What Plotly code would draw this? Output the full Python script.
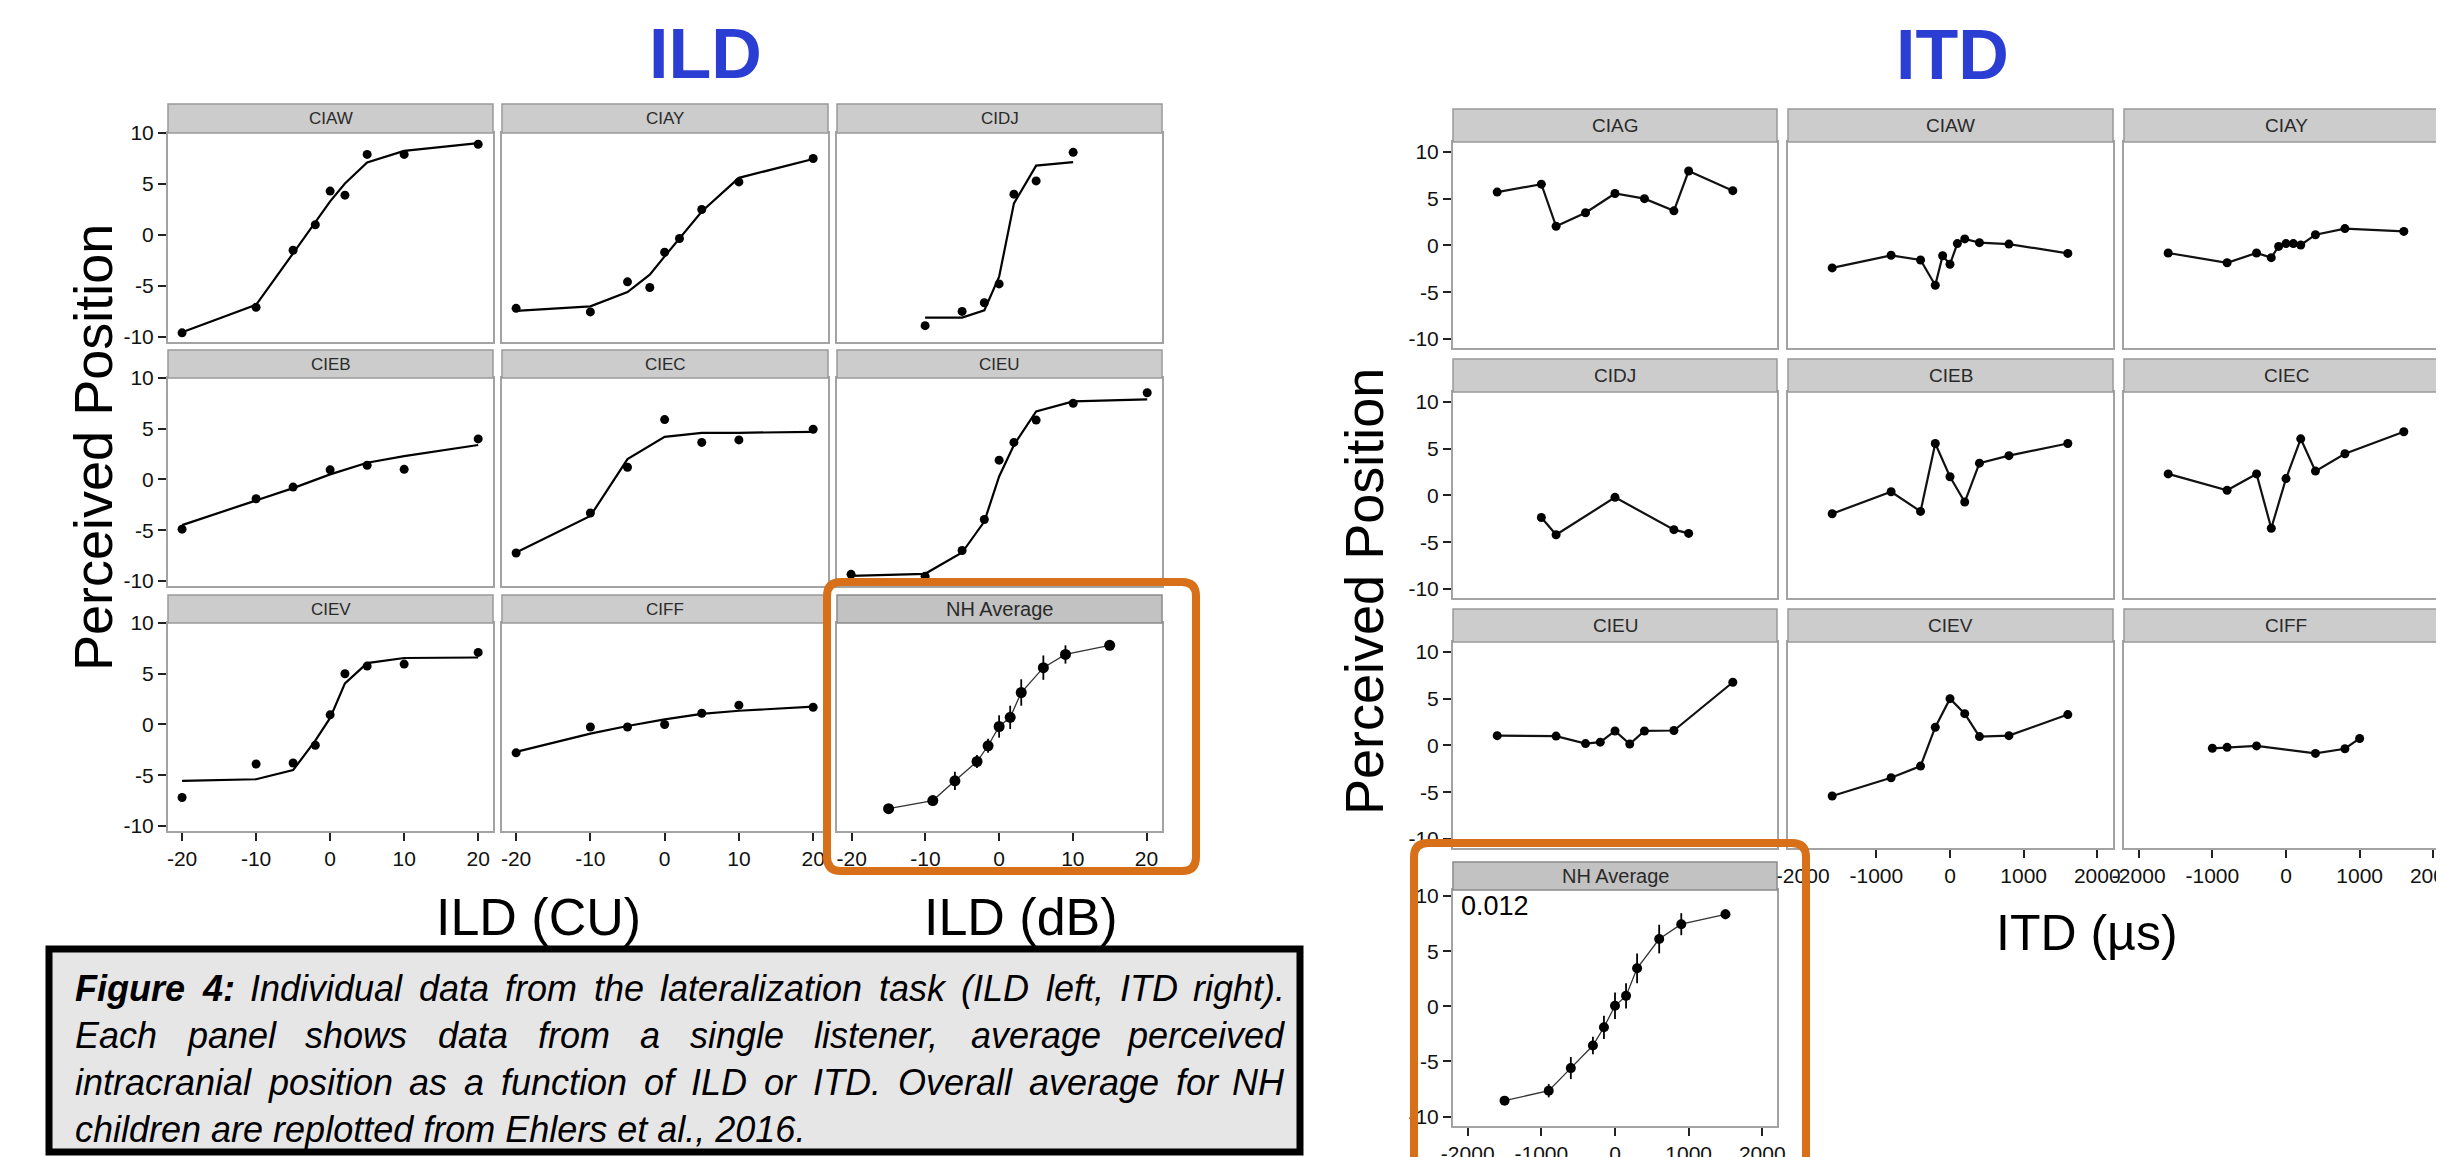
import plotly.graph_objects as go

# ---------------- data ----------------
ILD_X9 = [-20, -10, -5, -2, 0, 2, 5, 10, 20]
ILD_X7 = [-20, -10, -5, 0, 5, 10, 20]
ILD_X_CIDJ = [-10, -5, -2, 0, 2, 5, 10]

CIAW_PTS = [-9.6, -7.1, -1.5, 1.0, 4.3, 3.9, 7.9, 7.9, 8.9]
CIAW_FIT = [-9.55, -6.85, -1.8, 1.3, 3.3, 5.05, 7.1, 8.25, 9.0]
CIAY_PTS = [-7.2, -7.55, -4.6, -5.15, -1.7, -0.35, 2.5, 5.2, 7.5]
CIAY_FIT = [-7.45, -7.0, -5.6, -3.9, -2.1, -0.3, 2.3, 5.6, 7.45]
CIDJ_PTS = [-8.9, -7.5, -6.65, -4.8, 4.0, 5.3, 8.1]
CIDJ_FIT = [-8.1, -8.1, -7.4, -4.1, 3.1, 6.8, 7.15]
CIEB_PTS = [-4.9, -1.9, -0.75, 0.95, 1.4, 1.0, 4.0]
CIEB_FIT = [-4.5, -2.1, -0.85, 0.5, 1.65, 2.3, 3.4]
CIEC_PTS = [-7.25, -3.3, 1.2, 5.9, 3.65, 3.9, 4.95]
CIEC_FIT = [-7.2, -3.6, 2.0, 4.2, 4.6, 4.6, 4.7]
CIEU_PTS = [-9.35, -9.55, -7.0, -3.95, 1.9, 3.65, 5.85, 7.5, 8.55]
CIEU_FIT = [-9.5, -9.3, -7.2, -4.15, 0.3, 3.4, 6.7, 7.7, 7.9]
CIEV_PTS = [-7.2, -3.9, -3.8, -2.05, 0.95, 5.0, 5.75, 5.95, 7.1]
CIEV_FIT = [-5.55, -5.4, -4.5, -1.6, 0.65, 4.05, 6.05, 6.55, 6.6]
CIFF_PTS = [-2.8, -0.25, -0.25, 0.0, 1.1, 1.9, 1.7]
CIFF_FIT = [-2.7, -0.9, -0.15, 0.5, 1.05, 1.35, 1.75]

NH_ILD_X = [-15, -9, -6, -3, -1.5, 0, 1.5, 3, 6, 9, 15]
NH_ILD_Y = [-8.3, -7.5, -5.55, -3.65, -2.1, -0.2, 0.7, 3.15, 5.6, 6.9, 7.8]
NH_ILD_ERR = [0.3, 0.45, 0.9, 0.65, 0.7, 1.1, 1.15, 1.3, 1.2, 0.9, 0.3]

ITD_X9 = [-1600, -800, -400, -200, 0, 200, 400, 800, 1600]
ITD_X11 = [-1600, -800, -400, -200, -100, 0, 100, 200, 400, 800, 1600]
ITD_X_CIAG = [-1600, -1000, -800, -400, 0, 400, 800, 1000, 1600]
ITD_X_CIDJ = [-1000, -800, 0, 800, 1000]
ITD_X_CIFF = [-1000, -800, -400, 400, 800, 1000]

T_CIAG = [5.7, 6.55, 2.05, 3.5, 5.55, 5.0, 3.7, 7.95, 5.85]
T_CIAW = [-2.4, -1.05, -1.55, -4.25, -1.1, -2.0, 0.2, 0.7, 0.3, 0.15, -0.85]
T_CIAY = [-0.8, -1.85, -0.8, -1.3, -0.1, 0.2, 0.2, 0.05, 1.15, 1.8, 1.5]
T_CIDJ = [-2.35, -4.2, -0.2, -3.65, -4.05]
T_CIEB = [-1.95, 0.4, -1.7, 5.55, 2.0, -0.7, 3.45, 4.25, 5.55]
T_CIEC = [2.3, 0.55, 2.3, -3.5, 1.8, 6.05, 2.6, 4.45, 6.8]
T_CIEU = [1.05, 1.0, 0.2, 0.35, 1.55, 0.15, 1.55, 1.6, 6.75]
T_CIEV = [-5.4, -3.45, -2.2, 1.95, 5.0, 3.4, 0.95, 1.05, 3.3]
T_CIFF = [-0.3, -0.2, -0.05, -0.85, -0.35, 0.75]

NH_ITD_X = [-1500, -900, -600, -300, -150, 0, 150, 300, 600, 900, 1500]
NH_ITD_Y = [-8.55, -7.65, -5.6, -3.55, -1.9, 0.05, 0.95, 3.45, 6.1, 7.45, 8.35]
NH_ITD_ERR = [0.25, 0.6, 1.0, 0.8, 1.05, 1.2, 1.15, 1.35, 1.3, 1.0, 0.45]

Y_TICKS = [-10, -5, 0, 5, 10]
Y_TICK_TEXT = ["-10", "-5", "0", "5", "10"]
ILD_XTICKS = [-20, -10, 0, 10, 20]
ILD_XTICK_TEXT = ["-20", "-10", "0", "10", "20"]
ITD_XTICKS = [-2000, -1000, 0, 1000, 2000]
ITD_XTICK_TEXT = ["-2000", "-1000", "0", "1000", "2000"]

CAPTION_BOLD = "Figure 4:"
CAPTION = [
    "Individual data from the lateralization task (ILD left, ITD right).",
    "Each panel shows data from a single listener, average perceived",
    "intracranial position as a function of ILD or ITD. Overall average for NH",
    "children are replotted from Ehlers et al., 2016.",
]

# ---------------- layout helpers ----------------
W, H = 2444, 1157
OFF = 8  # page offset of the figure inside the browser window
FONT = "Liberation Sans, Arial, sans-serif"
ORANGE = "#d8701a"
BLUE = "#2b3ed4"


def fx(x):
    return (x - OFF) / W


def fy(y):
    return 1 - (y - OFF) / H


fig = go.Figure()
layout = dict(shapes=[], annotations=[])
counter = [0]


def add_panel(title, xpx, rowpx, xr, yr, xticks_on, yticks_on, xtickvals, xticktext,
              tick_size, strip_size, strip_fill="#cccccc", strip_line="#999999"):
    counter[0] += 1
    n = counter[0]
    sfx = "" if n == 1 else str(n)
    x0, x1 = xpx
    st, sb, pb = rowpx
    layout["xaxis" + sfx] = dict(
        domain=[fx(x0), fx(x1)], range=xr, anchor="y" + sfx, automargin=False,
        showline=True, mirror=True, linecolor="#a3a3a3", linewidth=2,
        showgrid=False, zeroline=False, ticklabeloverflow="allow",
        tickvals=xtickvals, ticktext=xticktext, showticklabels=xticks_on,
        ticks="outside" if xticks_on else "", ticklen=8, tickwidth=1.5, tickcolor="#222",
        tickfont=dict(size=tick_size, color="#111", family=FONT),
    )
    layout["yaxis" + sfx] = dict(
        domain=[fy(pb), fy(sb)], range=yr, anchor="x" + sfx, automargin=False,
        showline=True, mirror=True, linecolor="#a3a3a3", linewidth=2,
        showgrid=False, zeroline=False, ticklabeloverflow="allow",
        tickvals=Y_TICKS, ticktext=Y_TICK_TEXT, showticklabels=yticks_on,
        ticks="outside" if yticks_on else "", ticklen=8, tickwidth=1.5, tickcolor="#222",
        tickfont=dict(size=tick_size, color="#111", family=FONT),
    )
    layout["shapes"].append(dict(
        type="rect", xref="paper", yref="paper",
        x0=fx(x0), x1=fx(x1), y0=fy(sb), y1=fy(st),
        fillcolor=strip_fill, line=dict(color=strip_line, width=1.5), layer="above"))
    layout["annotations"].append(dict(
        xref="paper", yref="paper", x=fx((x0 + x1) / 2), y=fy((st + sb) / 2),
        text=title, showarrow=False, xanchor="center", yanchor="middle",
        font=dict(size=strip_size, color="#2a2a2a", family=FONT)))
    return "x" + sfx, "y" + sfx


def ild_fit(ax, xs, pts, fit):
    xa, ya = ax
    fig.add_trace(go.Scatter(x=xs, y=fit, mode="lines", xaxis=xa, yaxis=ya,
                             line=dict(color="black", width=2.2), hoverinfo="skip"))
    fig.add_trace(go.Scatter(x=xs, y=pts, mode="markers", xaxis=xa, yaxis=ya,
                             marker=dict(color="black", size=9)))


def itd_line(ax, xs, ys):
    xa, ya = ax
    fig.add_trace(go.Scatter(x=xs, y=ys, mode="lines+markers", xaxis=xa, yaxis=ya,
                             line=dict(color="#111", width=2.2),
                             marker=dict(color="black", size=9)))


def nh_line(ax, xs, ys, err, msize):
    xa, ya = ax
    fig.add_trace(go.Scatter(x=xs, y=ys, mode="lines+markers", xaxis=xa, yaxis=ya,
                             line=dict(color="#333", width=1.3),
                             marker=dict(color="black", size=msize),
                             error_y=dict(type="data", array=err, thickness=1.8,
                                          width=0, color="black")))


# ---------------- ILD grid ----------------
ILD_COLS = [(168, 493), (502, 828), (837, 1162)]
ILD_ROWS = [(104, 133, 342), (350, 378, 586), (595, 623, 831)]
ILD_XR = [-21.9, 22.0]
ILD_YR = [-10.5, 10.0]

ild_panels = [
    ("CIAW", 0, 0, ILD_X9, CIAW_PTS, CIAW_FIT),
    ("CIAY", 1, 0, ILD_X9, CIAY_PTS, CIAY_FIT),
    ("CIDJ", 2, 0, ILD_X_CIDJ, CIDJ_PTS, CIDJ_FIT),
    ("CIEB", 0, 1, ILD_X7, CIEB_PTS, CIEB_FIT),
    ("CIEC", 1, 1, ILD_X7, CIEC_PTS, CIEC_FIT),
    ("CIEU", 2, 1, ILD_X9, CIEU_PTS, CIEU_FIT),
    ("CIEV", 0, 2, ILD_X9, CIEV_PTS, CIEV_FIT),
    ("CIFF", 1, 2, ILD_X7, CIFF_PTS, CIFF_FIT),
]
for name, c, r, xs, pts, fit in ild_panels:
    ax = add_panel(name, ILD_COLS[c], ILD_ROWS[r], ILD_XR, ILD_YR,
                   xticks_on=(r == 2), yticks_on=(c == 0),
                   xtickvals=ILD_XTICKS, xticktext=ILD_XTICK_TEXT,
                   tick_size=21, strip_size=17)
    ild_fit(ax, xs, pts, fit)

ax = add_panel("NH Average", ILD_COLS[2], ILD_ROWS[2], [-22.0, 22.1], ILD_YR,
               xticks_on=True, yticks_on=False,
               xtickvals=ILD_XTICKS, xticktext=ILD_XTICK_TEXT,
               tick_size=21, strip_size=20, strip_fill="#c2c2c2", strip_line="#8a8a8a")
nh_line(ax, NH_ILD_X, NH_ILD_Y, NH_ILD_ERR, 11)

# ---------------- ITD grid ----------------
ITD_COLS = [(1453, 1777), (1788, 2113), (2124, 2448)]
ITD_ROWS = [(109, 142, 348), (359, 392, 598), (609, 642, 848)]
ITD_YR = [-10.95, 11.05]
STD_W = 324.0

itd_panels = [
    ("CIAG", 0, 0, ITD_X_CIAG, T_CIAG),
    ("CIAW", 1, 0, ITD_X11, T_CIAW),
    ("CIAY", 2, 0, ITD_X11, T_CIAY),
    ("CIDJ", 0, 1, ITD_X_CIDJ, T_CIDJ),
    ("CIEB", 1, 1, ITD_X9, T_CIEB),
    ("CIEC", 2, 1, ITD_X9, T_CIEC),
    ("CIEU", 0, 2, ITD_X9, T_CIEU),
    ("CIEV", 1, 2, ITD_X9, T_CIEV),
    ("CIFF", 2, 2, ITD_X_CIFF, T_CIFF),
]
for name, c, r, xs, ys in itd_panels:
    w = ITD_COLS[c][1] - ITD_COLS[c][0]
    xr = [-2200, -2200 + 4400 * w / STD_W]
    ax = add_panel(name, ITD_COLS[c], ITD_ROWS[r], xr, ITD_YR,
                   xticks_on=(r == 2 and c > 0), yticks_on=(c == 0),
                   xtickvals=ITD_XTICKS, xticktext=ITD_XTICK_TEXT,
                   tick_size=21, strip_size=19)
    itd_line(ax, xs, ys)

ax = add_panel("NH Average", (1453, 1777), (862, 890, 1126), [-2200, 2200], [-10.85, 10.55],
               xticks_on=True, yticks_on=True,
               xtickvals=ITD_XTICKS, xticktext=ITD_XTICK_TEXT,
               tick_size=21, strip_size=20, strip_fill="#c2c2c2", strip_line="#8a8a8a")
nh_line(ax, NH_ITD_X, NH_ITD_Y, NH_ITD_ERR, 10)


# ---------------- decorations ----------------
def rounded_box(x0, y0, x1, y1, r):
    pts = [
        ("M", (x0 + r, y0)), ("L", (x1 - r, y0)), ("Q", (x1, y0), (x1, y0 + r)),
        ("L", (x1, y1 - r)), ("Q", (x1, y1), (x1 - r, y1)),
        ("L", (x0 + r, y1)), ("Q", (x0, y1), (x0, y1 - r)),
        ("L", (x0, y0 + r)), ("Q", (x0, y0), (x0 + r, y0)),
    ]
    s = ""
    for item in pts:
        coords = " ".join("%.5f,%.5f" % (fx(p[0]), fy(p[1])) for p in item[1:])
        s += item[0] + " " + coords + " "
    return s + "Z"


layout["shapes"].append(dict(type="path", xref="paper", yref="paper",
                             path=rounded_box(827, 582, 1196, 871, 14),
                             line=dict(color=ORANGE, width=8), layer="above"))
layout["shapes"].append(dict(type="path", xref="paper", yref="paper",
                             path=rounded_box(1414, 843, 1806, 1180, 14),
                             line=dict(color=ORANGE, width=8), layer="above"))

# caption box
layout["shapes"].append(dict(type="rect", xref="paper", yref="paper",
                             x0=fx(49), x1=fx(1300), y0=fy(1152), y1=fy(949),
                             fillcolor="#e6e6e6", line=dict(color="black", width=7),
                             layer="above"))

# Arial / Liberation Sans advance widths (1/1000 em)
REG_W = dict(zip(" !(),-.:0123456789", [278, 278, 333, 333, 278, 333, 278, 278] + [556] * 10))
REG_W.update(dict(zip("ABCDEFGHIJKLMNOPQRSTUVWXYZ",
                      [667, 667, 722, 722, 667, 611, 778, 722, 278, 500, 667, 556, 833,
                       722, 778, 667, 778, 722, 667, 611, 722, 667, 944, 667, 667, 611])))
REG_W.update(dict(zip("abcdefghijklmnopqrstuvwxyz",
                      [556, 556, 500, 556, 556, 278, 556, 556, 222, 222, 500, 222, 833,
                       556, 556, 556, 556, 333, 500, 278, 556, 500, 722, 500, 500, 500])))
BOLD_W = {"F": 611, "i": 278, "g": 611, "u": 611, "r": 389, "e": 556, "4": 556, ":": 333}

CAP_SIZE = 36
CAP_L, CAP_R = 74, 1286


def word_w(word, bold):
    tbl = BOLD_W if bold else REG_W
    return sum(tbl.get(ch, 556) for ch in word) * CAP_SIZE / 1000.0


def caption_words(line_idx):
    words = [(w, False) for w in CAPTION[line_idx].split(" ")]
    if line_idx == 0:
        words = [(w, True) for w in CAPTION_BOLD.split(" ")] + words
    return words


def add_word(text, bold, x, y, anchor):
    t = "<i>%s</i>" % text
    if bold:
        t = "<b>%s</b>" % t
    layout["annotations"].append(dict(
        xref="paper", yref="paper", x=fx(x), y=fy(y), xanchor=anchor, yanchor="middle",
        text=t, showarrow=False, borderpad=0,
        font=dict(size=CAP_SIZE, color="black", family=FONT)))


cap_y = [988, 1035, 1082, 1129]
for i in range(3):  # justified lines
    words = caption_words(i)
    widths = [word_w(w, b) for w, b in words]
    gap = (CAP_R - CAP_L - sum(widths)) / (len(words) - 1)
    x = CAP_L
    for j, ((w, b), ww) in enumerate(zip(words, widths)):
        if j == len(words) - 1:
            add_word(w, b, CAP_R, cap_y[i], "right")
        else:
            add_word(w, b, x, cap_y[i], "left")
        x += ww + gap
layout["annotations"].append(dict(
    xref="paper", yref="paper", x=fx(CAP_L), y=fy(cap_y[3]), xanchor="left", yanchor="middle",
    text="<i>%s</i>" % CAPTION[3], showarrow=False, borderpad=0,
    font=dict(size=CAP_SIZE, color="black", family=FONT)))


def label(text, x, y, size, color="black", angle=0, bold=False):
    layout["annotations"].append(dict(
        xref="paper", yref="paper", x=fx(x), y=fy(y), xanchor="center", yanchor="middle",
        text=("<b>%s</b>" % text) if bold else text, showarrow=False, textangle=angle,
        font=dict(size=size, color=color, family=FONT)))


label("ILD", 705, 54, 70, BLUE, bold=True)
label("ITD", 1952, 55, 70, BLUE, bold=True)
label("Perceived Position", 93, 448, 54, angle=-90)
label("Perceived Position", 1364, 592, 54, angle=-90)
label("ILD (CU)", 538, 917, 52)
label("ILD (dB)", 1021, 917, 52)
label("ITD (µs)", 2087, 933, 50)
layout["annotations"].append(dict(
    xref="paper", yref="paper", x=fx(1459), y=fy(906), xanchor="left", yanchor="middle",
    text="0.012", showarrow=False, font=dict(size=27, color="black", family=FONT)))

fig.update_layout(
    width=W, height=H, margin=dict(l=0, r=0, t=0, b=0, autoexpand=False),
    paper_bgcolor="white", plot_bgcolor="white", showlegend=False,
    font=dict(family=FONT, color="black"),
    **layout,
)
fig.write_html("out.html")
